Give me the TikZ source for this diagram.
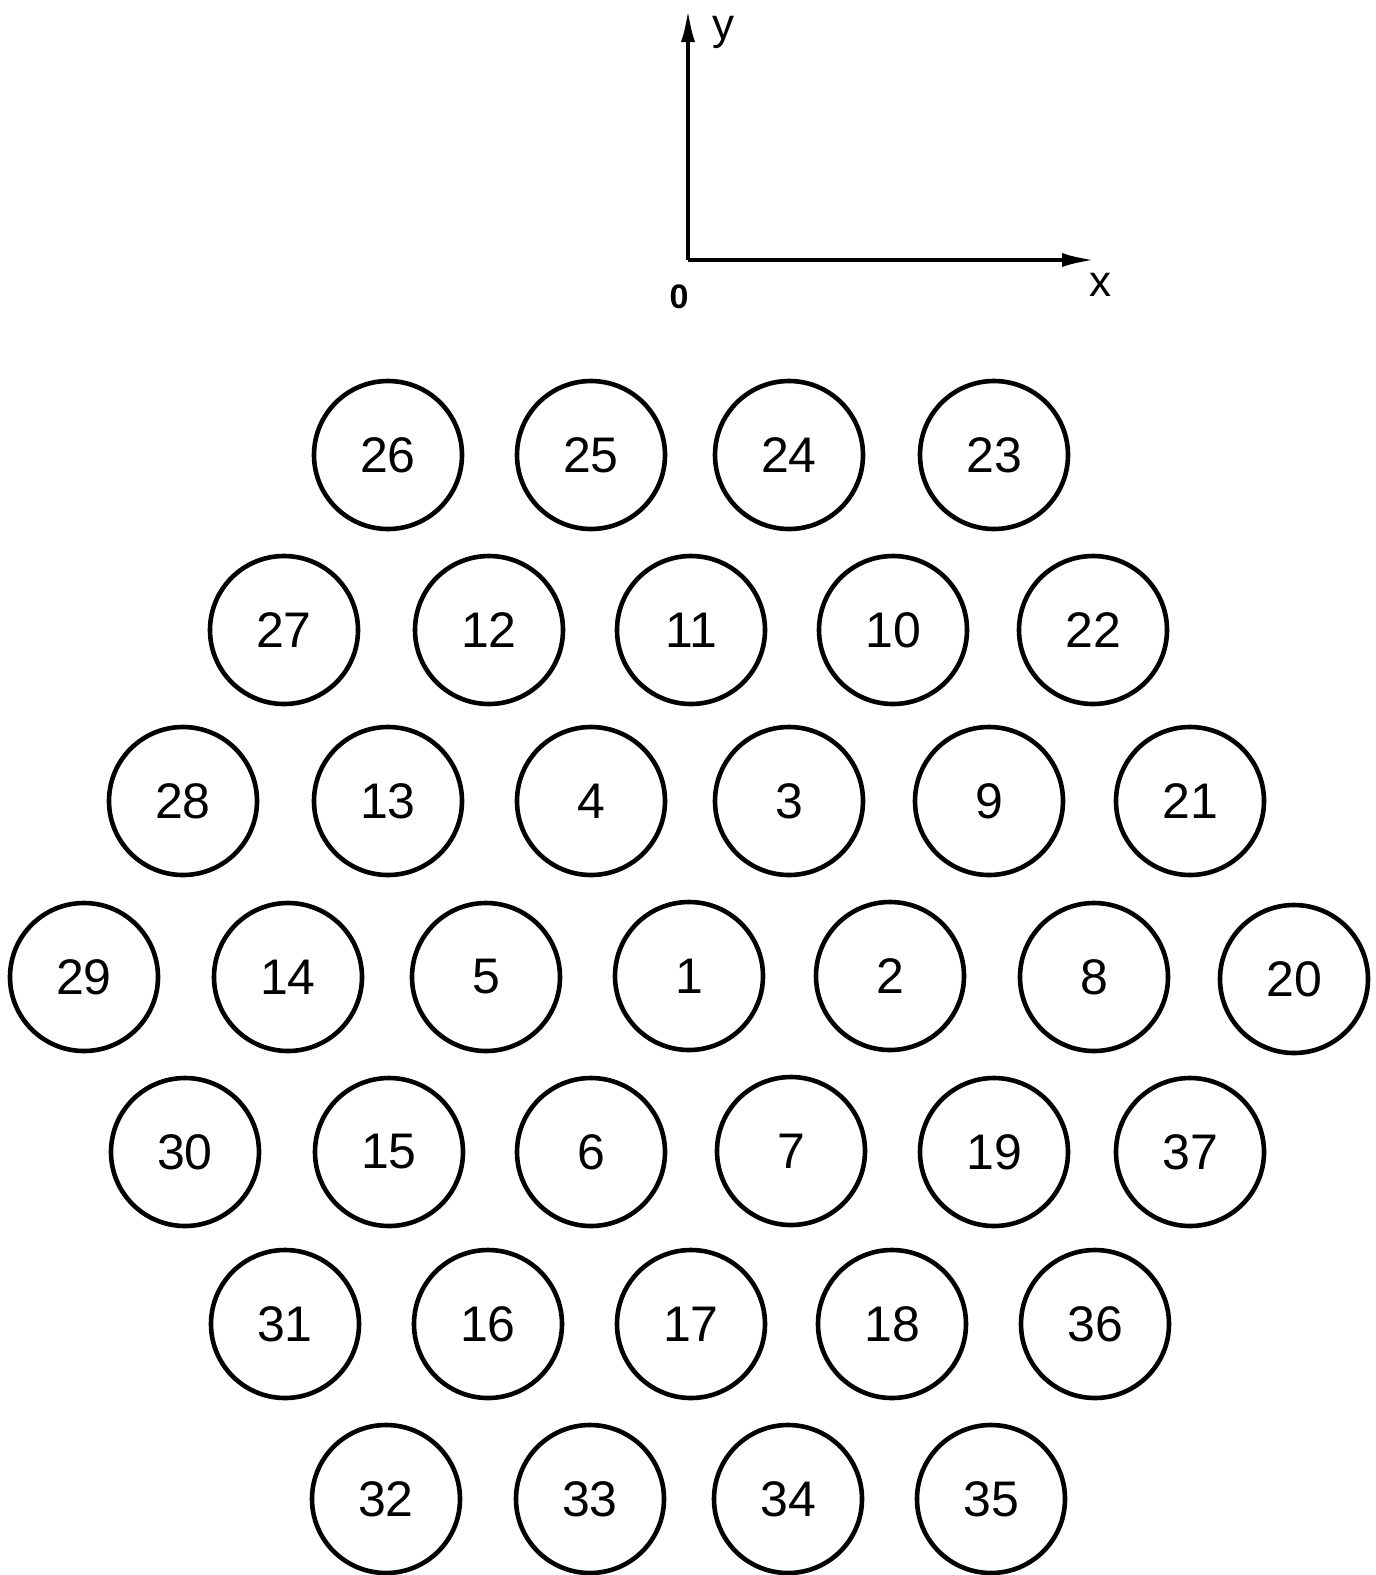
\documentclass[tikz,border=0pt]{standalone}
\usepackage{fontspec}
\setmainfont{Liberation Sans}
\usetikzlibrary{arrows.meta}
\tikzset{
  rod/.style={circle, draw, line width=4.6pt, minimum size=148pt, inner sep=0pt,
    font=\fontsize{50}{50}\selectfont},
  axis/.style={line width=4.6pt, -{Latex[length=34pt,width=14pt]}},
  axlabel/.style={inner sep=0pt, font=\fontsize{44}{44}\selectfont},
}
\begin{document}
\begin{tikzpicture}[x=1pt,y=-1pt]
\useasboundingbox (0,0) rectangle (1376,1575);
% axes
\coordinate (o) at (688,260);
\coordinate (ytip) at (688,8);
\coordinate (xtip) at (1096,260);
\draw[axis] (o) -- (ytip);
\draw[axis] (o) -- (xtip);
\node[axlabel] (ylab) at (723,32) {y};
\node[axlabel] (xlab) at (1100,285) {x};
\node[axlabel, font=\fontsize{34}{34}\bfseries] (olab) at (679,297) {0};
% row 1
\node[rod] (c26) at (388,455) {26};
\node[rod] (c25) at (591,455) {25};
\node[rod] (c24) at (789,455) {24};
\node[rod] (c23) at (994,455) {23};
% row 2
\node[rod] (c27) at (284,630) {27};
\node[rod] (c12) at (489,630) {12};
\node[rod] (c11) at (691,630) {11};
\node[rod] (c10) at (893,630) {10};
\node[rod] (c22) at (1093,630) {22};
% row 3
\node[rod] (c28) at (183,801) {28};
\node[rod] (c13) at (388,801) {13};
\node[rod] (c4) at (591,801) {4};
\node[rod] (c3) at (789,801) {3};
\node[rod] (c9) at (989,801) {9};
\node[rod] (c21) at (1190,801) {21};
% row 4
\node[rod] (c29) at (84,977) {29};
\node[rod] (c14) at (288,977) {14};
\node[rod] (c5) at (486,977) {5};
\node[rod] (c1) at (689,976) {1};
\node[rod] (c2) at (890,976) {2};
\node[rod] (c8) at (1094,977) {8};
\node[rod] (c20) at (1294,979) {20};
% row 5
\node[rod] (c30) at (185,1152) {30};
\node[rod] (c15) at (389,1152) {15};
\node[rod] (c6) at (591,1152) {6};
\node[rod] (c7) at (791,1151) {7};
\node[rod] (c19) at (994,1152) {19};
\node[rod] (c37) at (1190,1152) {37};
% row 6
\node[rod] (c31) at (285,1324) {31};
\node[rod] (c16) at (488,1324) {16};
\node[rod] (c17) at (691,1324) {17};
\node[rod] (c18) at (892,1324) {18};
\node[rod] (c36) at (1095,1324) {36};
% row 7
\node[rod] (c32) at (386,1499) {32};
\node[rod] (c33) at (590,1499) {33};
\node[rod] (c34) at (788,1499) {34};
\node[rod] (c35) at (991,1499) {35};
\end{tikzpicture}
\end{document}
